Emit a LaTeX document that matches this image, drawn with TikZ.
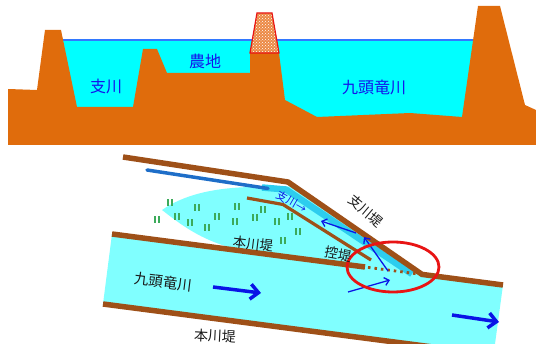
\documentclass[tikz,border=0pt]{standalone}
\usepackage{fontspec}
\newfontfamily\jp{Noto Sans CJK JP}
\usetikzlibrary{arrows.meta,patterns}

\definecolor{soil}{RGB}{224,108,12}
\definecolor{water}{RGB}{0,255,255}
\definecolor{surface}{RGB}{50,120,255}
\definecolor{labelblue}{RGB}{20,20,235}
\definecolor{dike}{RGB}{158,80,24}
\definecolor{flood}{RGB}{128,255,255}
\definecolor{branch}{RGB}{30,110,200}
\definecolor{channel}{RGB}{45,205,238}
\definecolor{grass}{RGB}{60,170,90}
\definecolor{flow}{RGB}{10,20,230}
\definecolor{ring}{RGB}{232,20,20}
\definecolor{gate}{RGB}{236,138,70}

\tikzset{
  toplabel/.style={inner sep=0pt, text=labelblue, font=\jp\fontsize{16}{16}\selectfont},
  botlabel/.style={inner sep=0pt, text=black!90, font=\jp\fontsize{13.5}{13.5}\selectfont},
  dikeline/.style={draw=dike, line width=5.5pt},
  thindike/.style={draw=dike, line width=3.2pt},
  grassmark/.style={draw=grass, line width=1.3pt},
  bigflow/.style={draw=flow, line width=3.5pt, -{Straight Barb[length=8pt,width=15pt]}},
  smallflow/.style={draw=flow, line width=1.3pt, -{Straight Barb[length=4.5pt,width=8pt]}},
}

\begin{document}
\begin{tikzpicture}[x=1pt,y=-1pt]
\useasboundingbox (0,0) rectangle (536,344);
\clip (0,0) rectangle (536,344);

% ---------- cross section ----------
\fill[water] (61,40) rectangle (476,125);
\draw[surface, line width=1.6pt] (62,40) -- (475,40);
\fill[soil] (8,89) -- (37,90) -- (45,30) -- (61,30) -- (77,107) -- (133,107)
  -- (143,49) -- (157,49) -- (167,73) -- (250,73) -- (250,53) -- (279,53)
  -- (285,100) -- (317,117) -- (410,113) -- (462,117) -- (478,6) -- (500,6)
  -- (525,105) -- (536,110) -- (536,145) -- (8,145) -- cycle;
% sandbag wall on the dike crown
\fill[gate] (250,53) -- (257,13) -- (272,13) -- (279,53) -- cycle;
\fill[pattern=crosshatch dots, pattern color=white] (250,53) -- (257,13) -- (272,13) -- (279,53) -- cycle;
\draw[ring, line width=1.2pt] (250,53) -- (257,13) -- (272,13) -- (279,53) -- cycle;

\node[toplabel] (tribsec) at (106,86) {支川};
\node[toplabel] (farmsec) at (205,61) {農地};
\node[toplabel] (mainsec) at (374,87) {九頭竜川};

% ---------- plan view ----------
% main river
\fill[flood] (112,234) -- (503,285) -- (495,344) -- (410,344) -- (103,304) -- cycle;
% flooded farmland between the dikes
\fill[flood] (162,210) .. controls (185,194) and (215,188) .. (250,187) -- (280,190)
  -- (290,186) -- (420,277) -- (240,250)
  .. controls (205,242) and (185,228) .. (162,210) -- cycle;
% tributary channel
\draw[channel, line width=6.5pt] (262,187.5) -- (286,189.5) -- (412,274);
\draw[branch, line width=3.5pt, line cap=round] (147,170) -- (268,188.5);

% paddy marks
\foreach \p in {(170,203),(197,208),(157,220),(177,217),(190,223),(207,228),
  (217,217),(237,207),(235,222),(255,218),(263,210),(277,222),(290,217),
  (298,232),(283,241)}
  \draw[grassmark] \p ++(-2,-3.5) -- ++(0,7) \p ++(2,-3.5) -- ++(0,7);

% dikes
\draw[dikeline] (123,157) -- (288,182) -- (422,274.4) -- (503,285);
\draw[dikeline] (112,234) -- (365,267);
\draw[draw=dike, line width=2.8pt, dash pattern=on 2.5pt off 4pt] (368,267.4) -- (420,274.2);
\draw[thindike] (247,198) -- (283,204.5) -- (371,260);
\draw[dikeline] (103,304) -- (540,361);

% flow arrows
\coordinate (m1) at (213,287); \coordinate (m2) at (261,293);
\coordinate (r1) at (452,315); \coordinate (r2) at (499,322);
\coordinate (c1) at (348,292); \coordinate (c2) at (390,280);
\coordinate (u1) at (388,271); \coordinate (u2) at (364,237);
\coordinate (t1) at (356,233); \coordinate (t2) at (321,221);
\draw[bigflow] (m1) -- (m2);
\draw[bigflow] (r1) -- (r2);
\draw[smallflow] (c1) -- (c2);
\draw[smallflow] (u1) -- (u2);
\draw[smallflow] (t1) -- (t2);

% breach area
\draw[ring, line width=2.8pt] (393,267) ellipse [x radius=46pt, y radius=25pt];

% labels
\node[inner sep=0pt, text=flow, rotate=-30, font=\jp\fontsize{11}{11}\selectfont] (tribflow) at (292,202) {支川→};
\node[botlabel, rotate=-40] (tribdike) at (366,211) {支川堤};
\node[botlabel, rotate=-7] (maindikeup) at (253,244) {本川堤};
\node[botlabel, rotate=-10] (subdike) at (338,254) {控堤};
\node[botlabel, rotate=-7, font=\jp\fontsize{14.5}{14.5}\selectfont] (mainriver) at (163,282) {九頭竜川};
\node[botlabel, rotate=-3, font=\jp\fontsize{14}{14}\selectfont] (maindikelow) at (215,336) {本川堤};
\end{tikzpicture}
\end{document}
